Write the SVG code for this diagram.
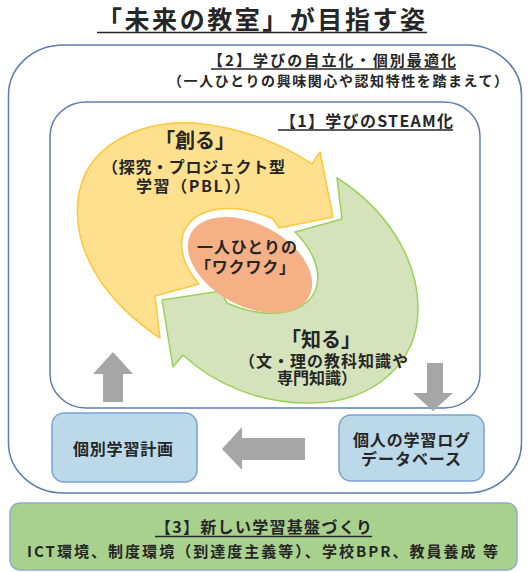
<svg xmlns="http://www.w3.org/2000/svg" width="529" height="572" viewBox="0 0 529 572">
<style>
text{font-family:"Noto Sans CJK JP","Noto Sans",sans-serif;fill:#262626;font-weight:bold}
.frame{fill:none;stroke:#5B7DB1;stroke-width:1.5}
.box{fill:#BCD9EA;stroke:#7BA3CF;stroke-width:1.5}
.ul{stroke:#262626;stroke-width:1.3}
.garrow{fill:#A6A6A6}
</style>
<rect width="529" height="572" fill="#FFFFFF"/>
<g id="title">
<text x="97" y="28.5" font-size="25" font-weight="500" textLength="328">「未来の教室」が目指す姿</text>
<line class="ul" x1="97" y1="32.5" x2="427" y2="32.5" stroke-width="1.6"/>
</g>
<g id="outer-frame">
<rect class="frame" x="8.5" y="45" width="513" height="448" rx="55" ry="50"/>
<text x="208" y="66" font-size="15" textLength="248">【2】学びの自立化・個別最適化</text>
<line class="ul" x1="211" y1="69" x2="456" y2="69"/>
<text x="168" y="86" font-size="14" textLength="340">（一人ひとりの興味関心や認知特性を踏まえて）</text>
</g>
<g id="inner-frame">
<rect class="frame" x="50" y="102" width="430" height="306" rx="36" ry="34"/>
<text x="280" y="127" font-size="16" textLength="173">【1】学びのSTEAM化</text>
<line class="ul" x1="278" y1="130" x2="453" y2="130"/>
</g>
<g id="tsukuru">
<path d="M160,338 C110,305 72,255 78,200 C84,145 140,120 195,123 C245,128 285,146 312,164 L320,152 L333,217 L279,228 L273,219 A81,50 28 0 0 199,284 L155,296 Z" fill="#FFE08F" stroke="#FFC73A" stroke-width="1.5" stroke-linejoin="round"/>
<text x="195" y="148" font-size="20" text-anchor="middle">「創る」</text>
<text x="102" y="173" font-size="16" textLength="183">（探究・プロジェクト型</text>
<text x="136" y="192" font-size="16" textLength="114">学習（PBL））</text>
</g>
<g id="shiru">
<path d="M337,178 C385,208 418,258 418,308 C418,365 372,402 312,403 C262,404 215,385 183,355 L173,367 L162,300 L221,291 L227,303 A81,50 28 0 0 295,232 L342,219 Z" fill="#D5E3BD" stroke="#9AD15A" stroke-width="1.5" stroke-linejoin="round"/>
<text x="321" y="347" font-size="20" text-anchor="middle">「知る」</text>
<text x="239" y="367" font-size="16" textLength="169">（文・理の教科知識や</text>
<text x="277" y="384" font-size="16">専門知識）</text>
</g>
<g id="wakuwaku">
<ellipse cx="250" cy="265" rx="67" ry="41" transform="rotate(28 250 265)" fill="#F5B185"/>
<text x="197" y="253" font-size="16" textLength="100">一人ひとりの</text>
<text x="195" y="273" font-size="16" textLength="100">「ワクワク」</text>
</g>
<g id="plan">
<rect class="box" x="52" y="413" width="145" height="69" rx="12"/>
<text x="73" y="455" font-size="16" textLength="100">個別学習計画</text>
</g>
<g id="log-db">
<rect class="box" x="339" y="415" width="145" height="66" rx="12"/>
<text x="353" y="446" font-size="16" textLength="117">個人の学習ログ</text>
<text x="361" y="465" font-size="16" textLength="100">データベース</text>
</g>
<g id="connectors">
<polygon class="garrow" points="113,352 133,374 123,374 123,402 103,402 103,374 93,374"/>
<polygon class="garrow" points="433,411 453,393 443,393 443,363 427,363 427,393 413,393"/>
<polygon class="garrow" points="222,449 242,427 242,438 305,438 305,460 242,460 242,470"/>
</g>
<g id="foundation">
<rect x="10" y="503" width="507" height="67" rx="10" fill="#A9D18E" stroke="#8EADC8" stroke-width="1.5"/>
<text x="155" y="533" font-size="16" textLength="217">【3】新しい学習基盤づくり</text>
<line class="ul" x1="155" y1="536.5" x2="372" y2="536.5"/>
<text x="27" y="557" font-size="15" textLength="471">ICT環境、制度環境（到達度主義等）、学校BPR、教員養成 等</text>
</g>
</svg>
